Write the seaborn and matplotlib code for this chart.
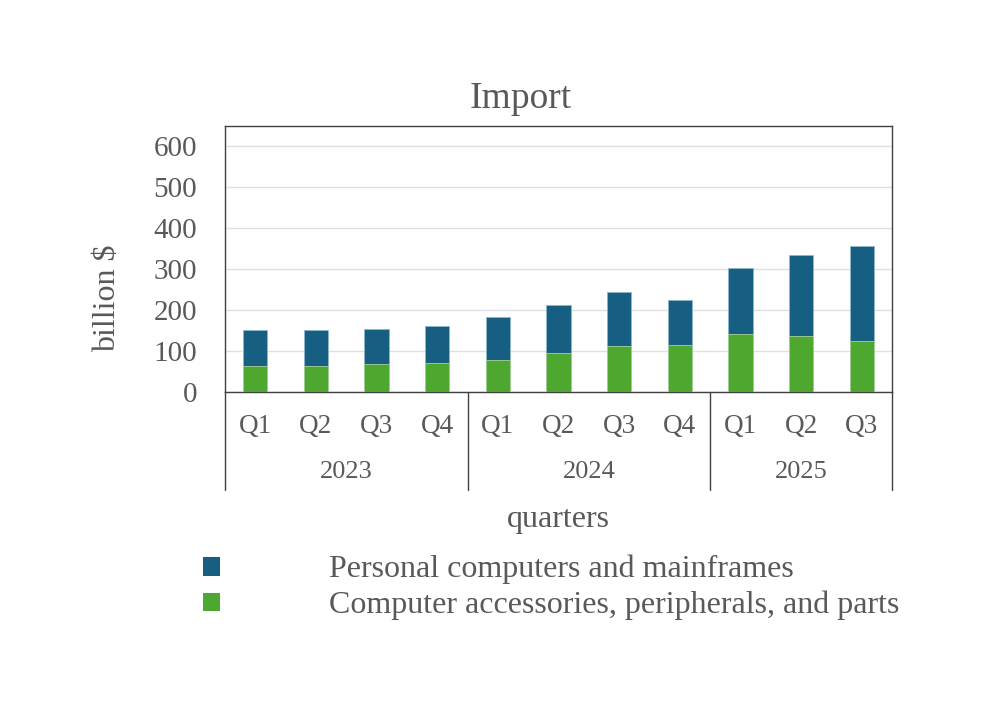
import matplotlib
matplotlib.use("Agg")
import matplotlib.pyplot as plt
from matplotlib.patches import Patch
import seaborn as sns
import pandas as pd

years = ["2023", "2023", "2023", "2023", "2024", "2024", "2024", "2024", "2025", "2025", "2025"]
quarters = ["Q1", "Q2", "Q3", "Q4", "Q1", "Q2", "Q3", "Q4", "Q1", "Q2", "Q3"]
pcs = [89.5, 88.5, 86.3, 91.2, 105.9, 118.9, 131.8, 111.5, 162.0, 198.6, 232.0]
accessories = [62.7, 63.5, 67.6, 70.0, 77.3, 94.4, 112.4, 114.0, 141.7, 136.8, 124.6]
series_names = ["Personal computers and mainframes", "Computer accessories, peripherals, and parts"]
year_groups = ["2023", "2024", "2025"]

BLUE = "#175f82"
GREEN = "#4ea72e"
TEXT = "#595959"

sns.set_theme(style="white")
plt.rcParams["font.family"] = ["Liberation Serif", "DejaVu Serif"]

cats = [f"{y} {q}" for y, q in zip(years, quarters)]
df = pd.DataFrame({"cat": cats, "pcs": pcs, "acc": accessories})
df["total"] = df["pcs"] + df["acc"]

fig = plt.figure(figsize=(9.96, 7.05), dpi=100)
ax = fig.add_axes([225 / 996, 1 - 392 / 705, 667 / 996, 266 / 705])

sns.barplot(data=df, x="cat", y="total", order=cats, color=BLUE, width=0.4,
            saturation=1, edgecolor="#8fb6cb", linewidth=0.6, ax=ax, zorder=3)
sns.barplot(data=df, x="cat", y="acc", order=cats, color=GREEN, width=0.4,
            saturation=1, edgecolor="#a8d39a", linewidth=0.6, ax=ax, zorder=3)

ax.set_ylim(0, 650)
ax.set_xlim(-0.5, len(cats) - 0.5)
ax.set_yticks(range(0, 601, 100))
ax.yaxis.grid(True, color="#e0e0e0", linewidth=1, zorder=0)
ax.set_axisbelow(True)
ax.tick_params(axis="y", length=0, pad=20, labelsize=21, labelcolor=TEXT)
ax.set_xticks(range(len(cats)))
ax.set_xticklabels(quarters)
ax.tick_params(axis="x", length=0, pad=16, labelsize=19.5, labelcolor=TEXT)
ax.set_xlabel("")
ax.set_ylabel("")
for s in ax.spines.values():
    s.set_color("#404040")
    s.set_linewidth(1)

# multi-level category axis
trans = ax.get_xaxis_transform()
bounds = [-0.5]
for i in range(1, len(years)):
    if years[i] != years[i - 1]:
        bounds.append(i - 0.5)
bounds.append(len(cats) - 0.5)
depth = -(490 - 392) / 266
for b in bounds:
    ax.plot([b, b], [0, depth], transform=trans, color="#404040", lw=1, clip_on=False)
for g in year_groups:
    idx = [i for i, y in enumerate(years) if y == g]
    xc = (idx[0] + idx[-1]) / 2
    ax.text(xc, -(472 - 392) / 266, g, transform=trans, ha="center", va="center",
            fontsize=19, color=TEXT)

fig.text(521 / 996, 1 - 99 / 705, "Import", ha="center", va="center", fontsize=27, color=TEXT)
fig.text(108 / 996, 1 - 298 / 705, "billion $", ha="center", va="center", rotation=90,
         fontsize=23, color=TEXT)
fig.text(558 / 996, 1 - 519 / 705, "quarters", ha="center", va="center", fontsize=23, color=TEXT)

handles = [Patch(facecolor=BLUE, edgecolor="none"), Patch(facecolor=GREEN, edgecolor="none")]
fig.legend(handles, series_names, loc="upper left", bbox_to_anchor=(203 / 996, 1 - 555 / 705),
           frameon=False, fontsize=23, labelcolor=TEXT, handlelength=0.53, handleheight=0.53,
           handletextpad=3.4, labelspacing=0.2, borderaxespad=0, borderpad=0)

fig.savefig("out.png", dpi=100, facecolor="white")
